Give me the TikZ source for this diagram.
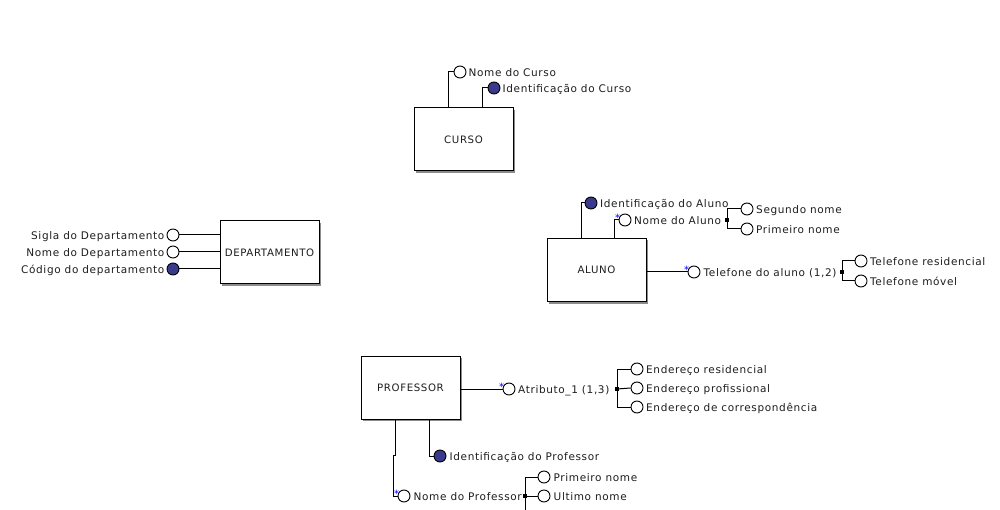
\documentclass[tikz,border=0pt]{standalone}
\usepackage{fontspec}
\newfontfamily\erfont[LetterSpace=6]{DejaVu Sans}
\usetikzlibrary{shadows}
\definecolor{keyblue}{RGB}{58,58,140}
\definecolor{txt}{RGB}{30,30,30}
\begin{document}
\begin{tikzpicture}[x=1pt,y=-1pt,
  ent/.style={draw=black,line width=1pt,fill=white,minimum width=99pt,minimum height=63pt,inner sep=0pt,
    font=\erfont\fontsize{10.2}{12}\selectfont,text=txt,
    drop shadow={shadow xshift=2pt,shadow yshift=-2pt,fill=black!45,opacity=1}},
  att/.style={circle,draw=black,line width=0.9pt,fill=white,minimum size=12pt,inner sep=0pt},
  keyatt/.style={att,fill=keyblue},
  lbl/.style={font=\erfont\fontsize{10.5}{12}\selectfont,text=txt,inner sep=0pt,text height=10pt,text depth=0.5pt},
  ln/.style={line width=1pt,draw=black},
  jn/.style={draw=black,fill=black,minimum size=3pt,inner sep=0pt},
  star/.style={text=blue,font=\fontspec{DejaVu Sans}\fontsize{10}{10}\selectfont,inner sep=0pt}
]
\useasboundingbox[fill=white] (0,0) rectangle (1000,510);

% ---------- CURSO ----------
\node[ent] (curso) at (463.5,139.5) {CURSO};
\node[att] (nc) at (460,72) {};
\node[lbl,anchor=west] (ncl) at (468.5,72) {Nome do Curso};
\node[keyatt] (ic) at (494,88) {};
\node[lbl,anchor=west] (icl) at (502.5,88) {Identificação do Curso};
\draw[ln] ([xshift=-15.5pt]curso.north) |- (nc.west);
\draw[ln] ([xshift=18.5pt]curso.north) |- (ic.west);

% ---------- DEPARTAMENTO ----------
\node[ent] (dep) at (269.5,252.5) {DEPARTAMENTO};
\node[att] (sd) at (173,235) {};
\node[att] (nd) at (173,252) {};
\node[keyatt] (cd) at (173,269) {};
\node[lbl,anchor=east] (sdl) at (164.5,235) {Sigla do Departamento};
\node[lbl,anchor=east] (ndl) at (164.5,252) {Nome do Departamento};
\node[lbl,anchor=east] (cdl) at (164.5,269) {Código do departamento};
\draw[ln] (sd.east) -- (sd.east -| dep.west);
\draw[ln] (nd.east) -- (nd.east -| dep.west);
\draw[ln] (cd.east) -- (cd.east -| dep.west);

% ---------- ALUNO ----------
\node[ent] (aluno) at (596.5,270) {ALUNO};
\node[keyatt] (ia) at (591,203) {};
\node[lbl,anchor=west] (ial) at (600,203) {Identificação do Aluno};
\node[att] (na) at (625,220) {};
\node[star] (nas) at (617.5,217.5) {*};
\node[lbl,anchor=west] (nal) at (634,220) {Nome do Aluno};
\node[jn] (ja) at (727,220) {};
\node[att] (sn) at (747,209) {};
\node[att] (pn) at (747,229) {};
\node[lbl,anchor=west] (snl) at (756,209) {Segundo nome};
\node[lbl,anchor=west] (pnl) at (756,229) {Primeiro nome};
\draw[ln] ([xshift=-15.5pt]aluno.north) |- (ia.west);
\draw[ln] ([xshift=17.5pt]aluno.north) |- (na.west);
\draw[ln] (ja.center) |- (sn.west);
\draw[ln] (ja.center) |- (pn.west);

\node[att] (tel) at (694,272) {};
\node[star] (tels) at (686.5,269.5) {*};
\node[lbl,anchor=west] (tell) at (703.5,272) {Telefone do aluno (1,2)};
\node[jn] (jt) at (842,272) {};
\node[att] (tr) at (861,261) {};
\node[att] (tm) at (861,281) {};
\node[lbl,anchor=west] (trl) at (870,261) {Telefone residencial};
\node[lbl,anchor=west] (tml) at (870,281) {Telefone móvel};
\draw[ln] (aluno.east |- tel) -- (tel.west);
\draw[ln] (jt.center) |- (tr.west);
\draw[ln] (jt.center) |- (tm.west);

% ---------- PROFESSOR ----------
\node[ent] (prof) at (410.5,387.5) {PROFESSOR};
\node[att] (at1) at (509,389) {};
\node[star] (at1s) at (501.5,386.5) {*};
\node[lbl,anchor=west] (at1l) at (518,389) {Atributo\_1 (1,3)};
\node[jn] (jp) at (617,389) {};
\node[att] (er) at (637,369) {};
\node[att] (ep) at (637,388) {};
\node[att] (ec) at (637,407) {};
\node[lbl,anchor=west] (erl) at (646,369) {Endereço residencial};
\node[lbl,anchor=west] (epl) at (646,388) {Endereço profissional};
\node[lbl,anchor=west] (ecl) at (646,407) {Endereço de correspondência};
\draw[ln] (prof.east |- at1) -- (at1.west);
\draw[ln] (jp.center) |- (er.west);
\draw[ln] (jp.center) -- (ep.west);
\draw[ln] (jp.center) |- (ec.west);

\node[keyatt] (ip) at (440,456) {};
\node[lbl,anchor=west] (ipl) at (449.5,456) {Identificação do Professor};
\draw[ln] ([xshift=18.5pt]prof.south) |- (ip.west);

\node[att] (np) at (404,496) {};
\node[star] (nps) at (396.5,493.5) {*};
\node[lbl,anchor=west] (npl) at (413.5,496) {Nome do Professor};
\node[jn] (jn1) at (525,496) {};
\node[att] (pp) at (544,477) {};
\node[att] (up) at (544,496) {};
\node[lbl,anchor=west] (ppl) at (553.5,477) {Primeiro nome};
\node[lbl,anchor=west] (upl) at (553.5,496) {Ultimo nome};
\coordinate (npend) at (525,510);
\draw[ln] ([xshift=-15.5pt]prof.south) -- ++(0,36) -- ++(-2,0) |- (np.west);
\draw[ln] (jn1.center) |- (pp.west);
\draw[ln] (jn1.center) -- (up.west);
\draw[ln] (jn1.center) -- (npend);
\end{tikzpicture}
\end{document}
